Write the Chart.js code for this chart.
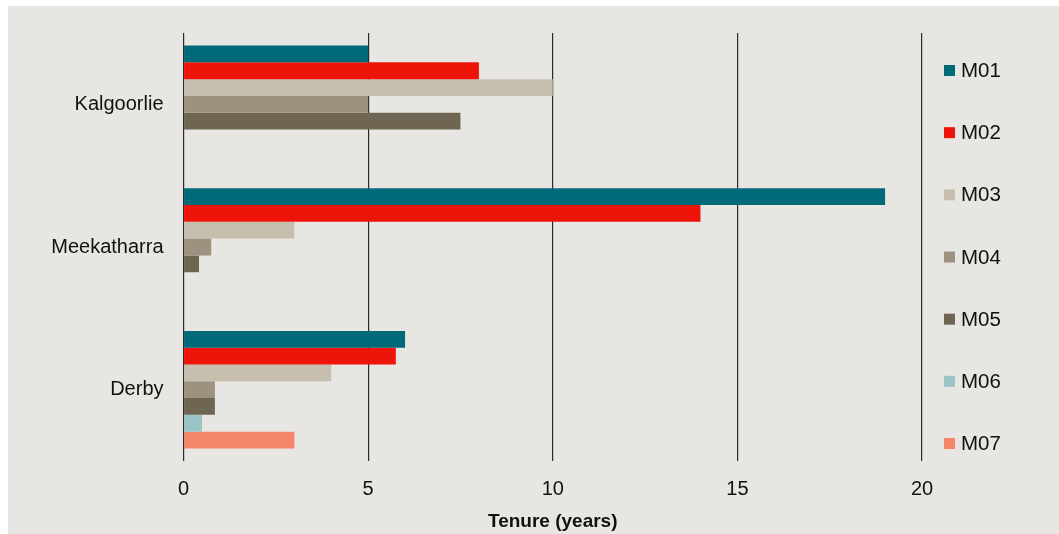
<!DOCTYPE html>
<html><head><meta charset="utf-8">
<script src="https://cdn.jsdelivr.net/npm/chart.js@4/dist/chart.umd.min.js"></script>
<style>
html,body{margin:0;padding:0;background:#fff;width:1059px;height:534px;overflow:hidden}
#panel{position:absolute;left:8px;top:6px;width:1051px;height:528px;background:#e8e6e2}
canvas{display:block}
</style></head><body>
<div id="panel"><canvas id="c" width="1051" height="528"></canvas></div>
<script>
const categories = ['Kalgoorlie', 'Meekatharra', 'Derby'];
const seriesNames = ['M01', 'M02', 'M03', 'M04', 'M05', 'M06', 'M07'];
const m01 = [5, 19, 6];
const m02 = [8, 14, 5.75];
const m03 = [10, 3, 4];
const m04 = [5, 0.75, 0.85];
const m05 = [7.5, 0.42, 0.85];
const m06 = [null, null, 0.5];
const m07 = [null, null, 3];
const xTickValues = [0, 5, 10, 15, 20];
const axisTitle = 'Tenure (years)';

const seriesValues = [m01, m02, m03, m04, m05, m06, m07];
const colors = ['#006a78', '#ee140a', '#c6bfad', '#9d917f', '#6e6652', '#9cc3c5', '#f5866a'];
const FONT = "'Liberation Sans', Arial, sans-serif";

const sideLegend = {
  id: 'sideLegend',
  afterDraw(chart) {
    const ctx = chart.ctx;
    ctx.save();
    ctx.font = '20.5px ' + FONT;
    ctx.textBaseline = 'middle';
    ctx.textAlign = 'left';
    chart.data.datasets.forEach((ds, i) => {
      const cy = 64.5 + i * 62.17;
      ctx.fillStyle = ds.backgroundColor;
      ctx.fillRect(936, cy - 5.5, 11, 11);
      ctx.fillStyle = '#111';
      ctx.fillText(ds.label, 953, cy + 1);
    });
    ctx.restore();
  }
};

new Chart(document.getElementById('c'), {
  type: 'bar',
  data: {
    labels: categories,
    datasets: seriesNames.map((n, i) => ({
      label: n,
      data: seriesValues[i],
      backgroundColor: colors[i],
      borderWidth: 0
    }))
  },
  options: {
    indexAxis: 'y',
    responsive: false,
    animation: false,
    layout: { padding: { left: 0, right: 137, top: 27, bottom: 0 } },
    datasets: { bar: { categoryPercentage: 0.824, barPercentage: 1 } },
    plugins: { legend: { display: false }, tooltip: { enabled: false } },
    scales: {
      x: {
        min: 0, max: 20,
        afterBuildTicks(s) { s.ticks = xTickValues.map(v => ({ value: v })); },
        ticks: { color: '#111', font: { family: FONT, size: 20 }, padding: 16 },
        grid: { color: '#2a2a2a', lineWidth: 1.2, drawTicks: false },
        border: { display: false },
        title: { display: true, text: axisTitle, color: '#111', font: { family: FONT, size: 19, weight: 'bold' }, padding: { top: 0, bottom: 1 } },
        afterFit(s) { s.height = 73; }
      },
      y: {
        ticks: { color: '#111', font: { family: FONT, size: 20 }, padding: 12 },
        grid: { display: false },
        border: { display: false },
        afterFit(s) { s.width = 175.5; }
      }
    }
  },
  plugins: [sideLegend]
});
</script>
</body></html>
